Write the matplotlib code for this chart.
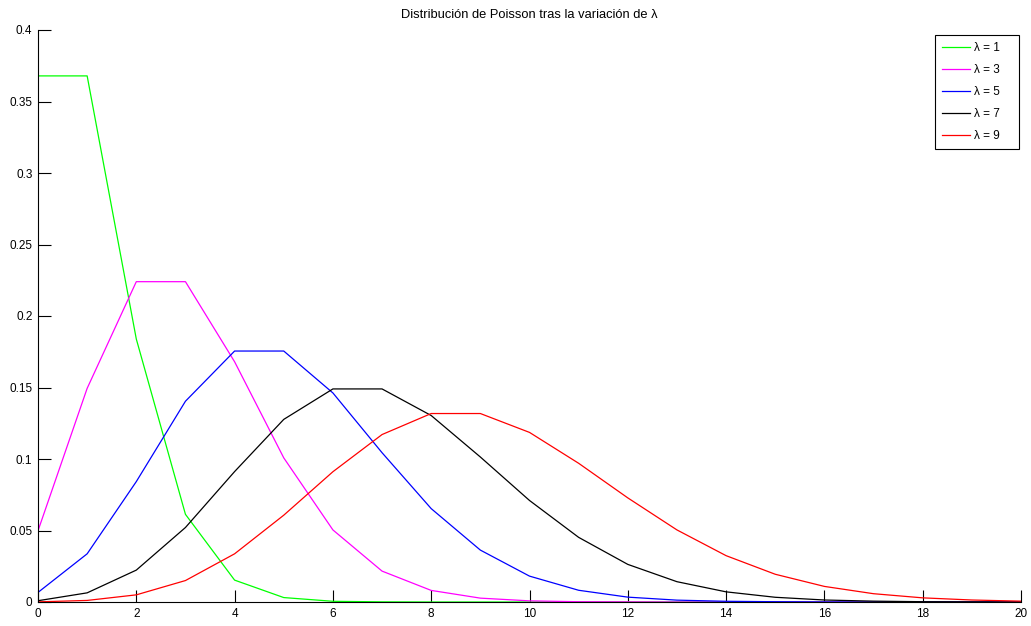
import matplotlib
matplotlib.use('Agg')
import matplotlib.pyplot as plt

plt.rcParams['font.family'] = ['Liberation Sans', 'DejaVu Sans']

k = list(range(0, 21))
lambdas = [1, 3, 5, 7, 9]
p1 = [0.3679, 0.3679, 0.1839, 0.0613, 0.0153, 0.0031, 0.0005, 0.0001, 0.0000, 0.0000,
      0.0000, 0.0000, 0.0000, 0.0000, 0.0000, 0.0000, 0.0000, 0.0000, 0.0000, 0.0000, 0.0000]
p3 = [0.0498, 0.1494, 0.2240, 0.2240, 0.1680, 0.1008, 0.0504, 0.0216, 0.0081, 0.0027,
      0.0008, 0.0002, 0.0001, 0.0000, 0.0000, 0.0000, 0.0000, 0.0000, 0.0000, 0.0000, 0.0000]
p5 = [0.0067, 0.0337, 0.0842, 0.1404, 0.1755, 0.1755, 0.1462, 0.1044, 0.0653, 0.0363,
      0.0181, 0.0082, 0.0034, 0.0013, 0.0005, 0.0002, 0.0000, 0.0000, 0.0000, 0.0000, 0.0000]
p7 = [0.0009, 0.0064, 0.0223, 0.0521, 0.0912, 0.1277, 0.1490, 0.1490, 0.1304, 0.1014,
      0.0710, 0.0452, 0.0263, 0.0142, 0.0071, 0.0033, 0.0014, 0.0006, 0.0002, 0.0001, 0.0000]
p9 = [0.0001, 0.0011, 0.0050, 0.0150, 0.0337, 0.0607, 0.0911, 0.1171, 0.1318, 0.1318,
      0.1186, 0.0970, 0.0728, 0.0504, 0.0324, 0.0194, 0.0109, 0.0058, 0.0029, 0.0014, 0.0006]
series = [p1, p3, p5, p7, p9]
colores = ['#00ff00', '#ff00ff', '#0000ff', '#000000', '#ff0000']

fig = plt.figure(figsize=(10.31, 6.26), dpi=100)
ax = fig.add_axes([38 / 1031, 24 / 626, 983 / 1031, 572 / 626])

for lam, p, c in zip(lambdas, series, colores):
    ax.plot(k, p, color=c, linewidth=0.9, label=u'\u03bb = %i' % lam)

ax.set_xlim(0, 20)
ax.set_ylim(0, 0.4)
ax.set_xticks(range(0, 21, 2))
yt = [0, 0.05, 0.1, 0.15, 0.2, 0.25, 0.3, 0.35, 0.4]
ax.set_yticks(yt)
ax.set_yticklabels(['%g' % v for v in yt])
ax.tick_params(direction='in', length=9, width=0.8, labelsize=8.5, pad=4)
ax.spines['top'].set_visible(False)
ax.spines['right'].set_visible(False)
ax.set_title(u'Distribuci\u00f3n de Poisson tras la variaci\u00f3n de \u03bb', fontsize=9.3, pad=9)

# caja de leyenda ancha como en matlab
leg = ax.legend(loc='upper left', fontsize=8.5, fancybox=False, framealpha=1,
                edgecolor='black', handlelength=2.4, handletextpad=0.3, borderpad=0.6,
                labelspacing=0.85, borderaxespad=0, mode='expand',
                bbox_to_anchor=(0.9125, 0, 0.0855, 0.9913))
leg.get_frame().set_linewidth(0.8)

fig.savefig('out.png', dpi=100)
